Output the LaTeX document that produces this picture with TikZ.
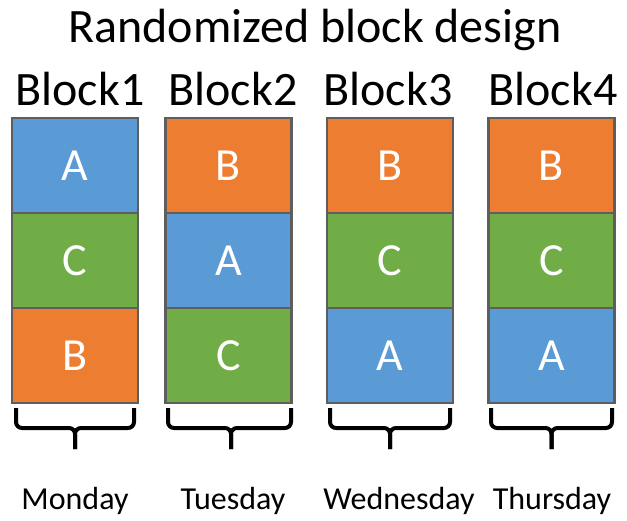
\documentclass[tikz,border=0pt]{standalone}
\usepackage{fontspec}
\setmainfont{Carlito}
\definecolor{cblue}{HTML}{5B9BD5}
\definecolor{corange}{HTML}{ED7D31}
\definecolor{cgreen}{HTML}{70AD47}
\definecolor{cborder}{HTML}{5E5E5E}
\begin{document}
\begin{tikzpicture}[x=1pt,y=-1pt,
  cell/.style={draw=cborder,line width=2.5pt,minimum width=126pt,minimum height=95pt,inner sep=0pt,text=white,font=\fontsize{46}{50}\selectfont},
  A/.style={cell,fill=cblue},
  B/.style={cell,fill=corange},
  C/.style={cell,fill=cgreen},
  head/.style={font=\fontsize{48}{52}\selectfont,anchor=base,inner sep=0pt},
  day/.style={font=\fontsize{32}{36}\selectfont,anchor=base,inner sep=0pt},
  brace/.style={line width=4pt,rounded corners=6pt}]
\useasboundingbox (0,0) rectangle (627,520);
\node[head] (title) at (315,42) {Randomized block design};
% columns
\node[head] (h1) at (80,105) {Block1};
\node[head] (h2) at (233,105) {Block2};
\node[head] (h3) at (388,105) {Block3};
\node[head] (h4) at (553,105) {Block4};
\node[A] (b11) at (75,165.5) {A};
\node[C] (b12) at (75,260.5) {C};
\node[B] (b13) at (75,355.5) {B};
\node[B] (b21) at (228.5,165.5) {B};
\node[A] (b22) at (228.5,260.5) {A};
\node[C] (b23) at (228.5,355.5) {C};
\node[B] (b31) at (390,165.5) {B};
\node[C] (b32) at (390,260.5) {C};
\node[A] (b33) at (390,355.5) {A};
\node[B] (b41) at (551.5,165.5) {B};
\node[C] (b42) at (551.5,260.5) {C};
\node[A] (b43) at (551.5,355.5) {A};
% braces
\foreach \c/\l/\r in {75/16/134, 231/168/291, 390/330/450, 551.5/491/612}{
  \draw[brace] (\l,408) -- (\l,428) -- (\c,428) -- (\c,449);
  \draw[brace] (\r,408) -- (\r,428) -- (\c,428) -- (\c,449);
}
\node[day] (d1) at (75,509) {Monday};
\node[day] (d2) at (233,509) {Tuesday};
\node[day] (d3) at (399,509) {Wednesday};
\node[day] (d4) at (552,509) {Thursday};
\end{tikzpicture}
\end{document}
